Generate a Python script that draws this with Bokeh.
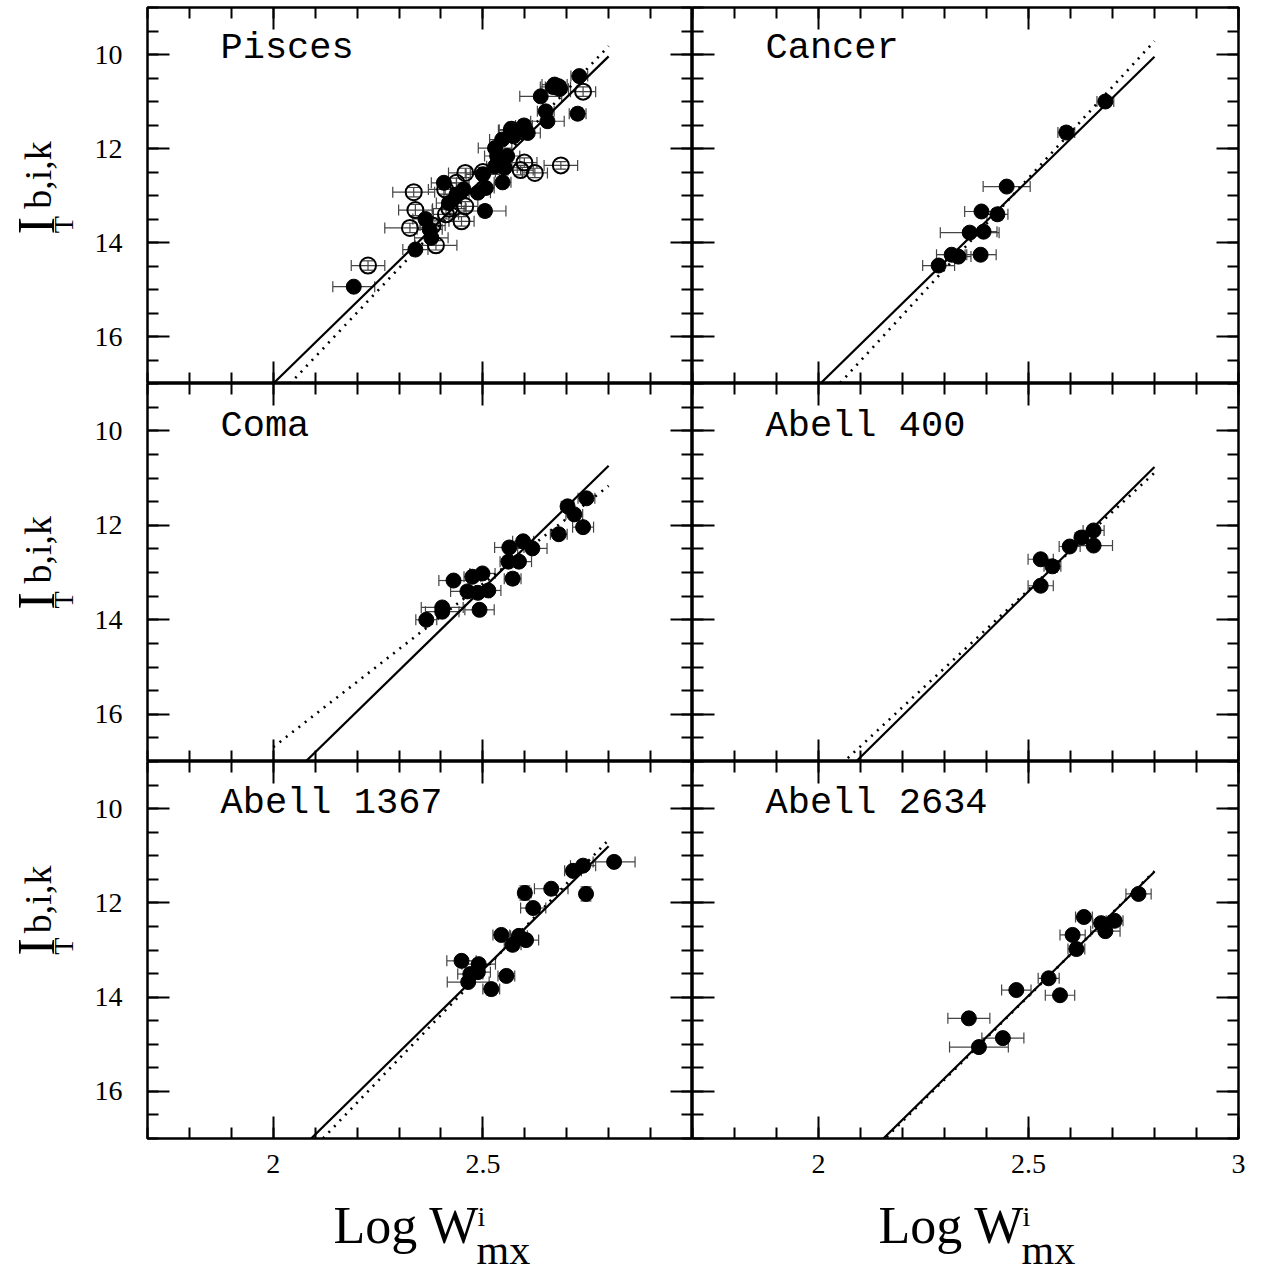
import numpy as np
from bokeh.plotting import figure
from bokeh.models import (ColumnDataSource, Whisker, TeeHead, LinearAxis,
                          FixedTicker, Range1d, Label)
from bokeh.layouts import column, row
from bokeh.embed import file_html
from bokeh.resources import INLINE

# ---------------- data ----------------
panel_names = ["Pisces", "Cancer", "Coma", "Abell 400", "Abell 1367", "Abell 2634"]

# fitted relations: mag = zp + slope * (logW - 2.5)
solid_zp = [12.65, 12.67, 13.34, 13.40, 13.42, 13.97]
solid_slope = [-8.70, -8.74, -8.66, -8.77, -8.74, -8.77]
dot_zp = [12.655, 12.63, 13.24, 13.37, 13.45, 13.98]
dot_slope = [-9.45, -9.72, -6.91, -8.27, -9.30, -8.85]
fit_x_start = 2.0
fit_x_end = 2.8

# Pisces filled
pis_x = [2.730, 2.667, 2.684, 2.671, 2.638, 2.726, 2.650, 2.654, 2.598, 2.567,
         2.607, 2.573, 2.529, 2.534, 2.558, 2.529, 2.552, 2.547, 2.500, 2.507,
         2.488, 2.407, 2.505, 2.363, 2.377, 2.339, 2.192, 2.437, 2.454, 2.546,
         2.419, 2.373]
pis_y = [10.46, 10.69, 10.73, 10.64, 10.89, 11.26, 11.21, 11.42, 11.51, 11.61,
         11.67, 11.74, 11.99, 12.16, 12.16, 12.38, 12.41, 12.72, 12.55, 12.84,
         12.94, 12.73, 13.33, 13.50, 13.90, 14.15, 14.94, 12.98, 12.87, 11.81,
         13.16, 13.72]
pis_xe = [0.02, 0.03, 0.02, 0.03, 0.05, 0.02, 0.02, 0.04, 0.02, 0.03,
          0.03, 0.02, 0.04, 0.03, 0.03, 0.02, 0.03, 0.02, 0.04, 0.02,
          0.03, 0.03, 0.05, 0.03, 0.04, 0.03, 0.05, 0.03, 0.03, 0.03,
          0.03, 0.03]
pis_ye = [0.08, 0.1, 0.1, 0.1, 0.08, 0.12, 0.1, 0.1, 0.12, 0.1,
          0.1, 0.1, 0.12, 0.1, 0.1, 0.1, 0.1, 0.1, 0.1, 0.1,
          0.1, 0.1, 0.12, 0.1, 0.1, 0.1, 0.05, 0.1, 0.1, 0.1,
          0.1, 0.1]
# Pisces open
piso_x = [2.739, 2.686, 2.624, 2.599, 2.590, 2.458, 2.437, 2.410, 2.335, 2.339,
          2.458, 2.420, 2.412, 2.449, 2.326, 2.380, 2.388, 2.226, 2.569, 2.679,
          2.500]
piso_y = [10.79, 12.36, 12.52, 12.30, 12.46, 12.52, 12.73, 12.87, 12.93, 13.31,
          13.23, 13.28, 13.40, 13.55, 13.69, 13.64, 14.06, 14.49, 11.60, 10.69,
          12.50]
piso_xe = [0.03, 0.04, 0.03, 0.03, 0.03, 0.04, 0.03, 0.04, 0.05, 0.04,
           0.03, 0.04, 0.03, 0.03, 0.06, 0.03, 0.05, 0.04, 0.03, 0.03,
           0.03]
piso_ye = [0.1, 0.08, 0.1, 0.1, 0.1, 0.1, 0.1, 0.1, 0.1, 0.12,
           0.1, 0.1, 0.1, 0.1, 0.1, 0.1, 0.1, 0.1, 0.1, 0.1,
           0.1]

can_x = [2.683, 2.590, 2.448, 2.388, 2.426, 2.360, 2.393, 2.317, 2.333, 2.386, 2.286]
can_y = [11.00, 11.66, 12.81, 13.34, 13.40, 13.79, 13.77, 14.26, 14.30, 14.26, 14.49]
can_xe = [0.02, 0.02, 0.056, 0.04, 0.025, 0.07, 0.032, 0.036, 0.03, 0.037, 0.038]
can_ye = [0.1, 0.12, 0.08, 0.1, 0.12, 0.08, 0.08, 0.1, 0.08, 0.1, 0.1]

com_x = [2.747, 2.702, 2.718, 2.739, 2.681, 2.596, 2.618, 2.563, 2.561, 2.586, 2.571,
         2.499, 2.475, 2.513, 2.463, 2.488, 2.430, 2.492, 2.403, 2.403, 2.365]
com_y = [11.43, 11.60, 11.77, 12.04, 12.19, 12.34, 12.49, 12.47, 12.77, 12.77, 13.13,
         13.02, 13.09, 13.38, 13.40, 13.43, 13.17, 13.79, 13.74, 13.83, 14.00]
com_xe = [0.02, 0.015, 0.02, 0.025, 0.02, 0.025, 0.035, 0.035, 0.02, 0.03, 0.02,
          0.03, 0.02, 0.03, 0.04, 0.03, 0.035, 0.035, 0.05, 0.04, 0.025]
com_ye = [0.1, 0.1, 0.1, 0.1, 0.1, 0.1, 0.1, 0.1, 0.1, 0.1, 0.12,
          0.1, 0.1, 0.1, 0.1, 0.1, 0.1, 0.08, 0.1, 0.1, 0.1]

a400_x = [2.529, 2.557, 2.529, 2.598, 2.626, 2.655, 2.655]
a400_y = [12.72, 12.87, 13.28, 12.45, 12.26, 12.11, 12.43]
a400_xe = [0.03, 0.02, 0.03, 0.025, 0.015, 0.025, 0.045]
a400_ye = [0.1, 0.12, 0.1, 0.08, 0.12, 0.1, 0.08]

a1367_x = [2.813, 2.739, 2.715, 2.746, 2.663, 2.600, 2.620, 2.544, 2.586, 2.603,
           2.571, 2.449, 2.490, 2.470, 2.488, 2.465, 2.556, 2.520]
a1367_y = [11.13, 11.21, 11.32, 11.81, 11.70, 11.79, 12.11, 12.68, 12.70, 12.79,
           12.89, 13.23, 13.30, 13.51, 13.47, 13.68, 13.55, 13.83]
a1367_xe = [0.05, 0.03, 0.02, 0.01, 0.04, 0.015, 0.03, 0.02, 0.02, 0.03,
            0.02, 0.035, 0.04, 0.03, 0.03, 0.05, 0.02, 0.02]
a1367_ye = [0.05, 0.08, 0.1, 0.15, 0.06, 0.15, 0.1, 0.1, 0.1, 0.08,
            0.12, 0.1, 0.1, 0.1, 0.1, 0.08, 0.1, 0.12]

a2634_x = [2.762, 2.632, 2.673, 2.705, 2.683, 2.605, 2.614, 2.548, 2.575, 2.471,
           2.358, 2.439, 2.382]
a2634_y = [11.81, 12.30, 12.43, 12.38, 12.60, 12.68, 12.98, 13.60, 13.96, 13.85,
           14.45, 14.87, 15.06]
a2634_xe = [0.03, 0.02, 0.02, 0.02, 0.035, 0.03, 0.02, 0.025, 0.035, 0.035,
            0.05, 0.05, 0.07]
a2634_ye = [0.08, 0.1, 0.1, 0.1, 0.1, 0.1, 0.12, 0.1, 0.05, 0.08, 0.05, 0.08, 0.05]

filled_sets = [(pis_x, pis_y, pis_xe, pis_ye), (can_x, can_y, can_xe, can_ye),
               (com_x, com_y, com_xe, com_ye), (a400_x, a400_y, a400_xe, a400_ye),
               (a1367_x, a1367_y, a1367_xe, a1367_ye), (a2634_x, a2634_y, a2634_xe, a2634_ye)]
open_sets = [(piso_x, piso_y, piso_xe, piso_ye), None, None, None, None, None]

x_major_left = [2.0, 2.5]
x_major_right = [2.0, 2.5, 3.0]
x_minor = [round(1.7 + 0.1 * i, 2) for i in range(14)]
y_major = [10, 12, 14, 16]
y_minor = [9 + 0.5 * i for i in range(17)]

y_title_main = "I"
y_title_sub = "T"
y_title_sup = "b,i,k"
x_title_main = "Log W"
x_title_sup = "i"
x_title_sub = "mx"

SERIF = "Liberation Serif"
MONO = "Liberation Mono"

YLAB_W = 84                 # strip holding the rotated y titles
LEFT_BORDER = 147 - YLAB_W  # room for y tick labels
FRAME_W = [545, 546]
RIGHT_BORDER = [0, 23]
FRAME_H = [376, 378, 377]
ROW_TOP = [7, 0, 0]
ROW_BOT = [0, 0, 60]
XLAB_H = 1272 - (383 + 378 + 437)


def style_axis(ax, ticks, minor, show_labels):
    ax.ticker = FixedTicker(ticks=ticks, minor_ticks=minor)
    ax.axis_line_color = None
    ax.major_tick_in = 22
    ax.major_tick_out = 0
    ax.minor_tick_in = 11
    ax.minor_tick_out = 0
    ax.major_tick_line_width = 2
    ax.minor_tick_line_width = 2
    ax.major_tick_line_color = "black"
    ax.minor_tick_line_color = "black"
    if show_labels:
        ax.major_label_text_font = SERIF
        ax.major_label_text_font_size = "28px"
        ax.major_label_text_color = "black"
    else:
        ax.major_label_text_font_size = "1px"
        ax.major_label_text_color = None
        ax.major_label_standoff = 0


def make_panel(idx):
    r, c = divmod(idx, 2)
    left = c == 0
    bottom = r == 2
    lb = LEFT_BORDER if left else 0
    w = lb + FRAME_W[c] + RIGHT_BORDER[c]
    h = ROW_TOP[r] + FRAME_H[r] + ROW_BOT[r]
    p = figure(width=w, height=h, output_backend="svg", toolbar_location=None,
               x_range=Range1d(1.7, 3.0), y_range=Range1d(17, 9),
               min_border_left=lb, min_border_right=RIGHT_BORDER[c],
               min_border_top=ROW_TOP[r], min_border_bottom=ROW_BOT[r],
               tools="")
    p.grid.visible = False
    p.outline_line_color = "black"
    p.outline_line_width = 2.5
    p.background_fill_color = "white"
    p.border_fill_color = "white"

    xt = x_major_left if left else x_major_right
    style_axis(p.xaxis[0], xt, x_minor, bottom)
    if bottom:
        p.xaxis[0].major_label_standoff = 16
    style_axis(p.yaxis[0], y_major, y_minor, left)
    if left:
        p.yaxis[0].major_label_standoff = 25
    top = LinearAxis()
    style_axis(top, xt, x_minor, False)
    p.add_layout(top, "above")
    rgt = LinearAxis()
    style_axis(rgt, y_major, y_minor, False)
    p.add_layout(rgt, "right")

    # fitted lines
    xs = np.array([fit_x_start, fit_x_end])
    p.line(xs, solid_zp[idx] + solid_slope[idx] * (xs - 2.5), line_color="black", line_width=2.2)
    p.line(xs, dot_zp[idx] + dot_slope[idx] * (xs - 2.5), line_color="black", line_width=2.6,
           line_dash="2 6")

    def add_points(data, filled):
        x, y, xe, ye = data
        x = np.array(x); y = np.array(y); xe = np.array(xe); ye = np.array(ye)
        src = ColumnDataSource(dict(x=x, y=y, xl=x - xe, xu=x + xe, yl=y - ye, yu=y + ye))
        for dim, base, lo, hi in (("width", "y", "xl", "xu"), ("height", "x", "yl", "yu")):
            wsk = Whisker(source=src, base=base, lower=lo, upper=hi, dimension=dim,
                          line_color="#444444", line_width=1.2, level="underlay",
                          lower_head=TeeHead(size=11, line_color="#444444", line_width=1.2),
                          upper_head=TeeHead(size=11, line_color="#444444", line_width=1.2))
            p.add_layout(wsk)
        if filled:
            p.scatter("x", "y", source=src, marker="circle", size=15,
                      fill_color="black", line_color="black")
        else:
            p.scatter("x", "y", source=src, marker="circle", size=16,
                      fill_alpha=0, line_color="black", line_width=2)

    if open_sets[idx] is not None:
        add_points(open_sets[idx], False)
    add_points(filled_sets[idx], True)

    p.add_layout(Label(x=73, y=315, x_units="screen", y_units="screen",
                       text=panel_names[idx], text_font=MONO, text_font_size="37px",
                       text_color="black", text_baseline="bottom"))
    return p


def text_strip(width, height, x0, y0):
    s = figure(width=width, height=height, output_backend="svg", toolbar_location=None,
               x_range=Range1d(x0, x0 + width), y_range=Range1d(y0, y0 + height),
               x_axis_type=None, y_axis_type=None, tools="",
               min_border_left=0, min_border_right=0, min_border_top=0, min_border_bottom=0)
    s.grid.visible = False
    s.outline_line_color = None
    s.background_fill_color = "white"
    s.border_fill_color = "white"
    return s


def ylab_strip(r):
    h = ROW_TOP[r] + FRAME_H[r] + ROW_BOT[r]
    s = text_strip(YLAB_W, h, 0, -ROW_BOT[r])
    kw = dict(angle=np.pi / 2, text_baseline="bottom", text_align="left",
              text_font=SERIF, text_color="black")
    s.add_layout(Label(x=64, y=152, text=y_title_main, text_font_size="52px", **kw))
    s.add_layout(Label(x=78, y=153, text=y_title_sub, text_font_size="28px", **kw))
    s.add_layout(Label(x=58, y=178, text=y_title_sup, text_font_size="38px", **kw))
    return s


def xlab_strip():
    s = text_strip(1261, XLAB_H, 0, 0)
    kw = dict(text_baseline="bottom", text_align="left", text_font=SERIF,
              text_color="black")
    for x0 in (333, 878):
        s.add_layout(Label(x=x0, y=19, text=x_title_main, text_font_size="52px", **kw))
        s.add_layout(Label(x=x0 + 144, y=41, text=x_title_sup, text_font_size="28px", **kw))
        s.add_layout(Label(x=x0 + 143, y=0, text=x_title_sub, text_font_size="42px", **kw))
    return s


panels = [make_panel(i) for i in range(6)]
rows = [row(ylab_strip(r), panels[2 * r], panels[2 * r + 1]) for r in range(3)]
layout = column(*rows, xlab_strip())

open("out.html", "w").write(file_html(layout, INLINE))
